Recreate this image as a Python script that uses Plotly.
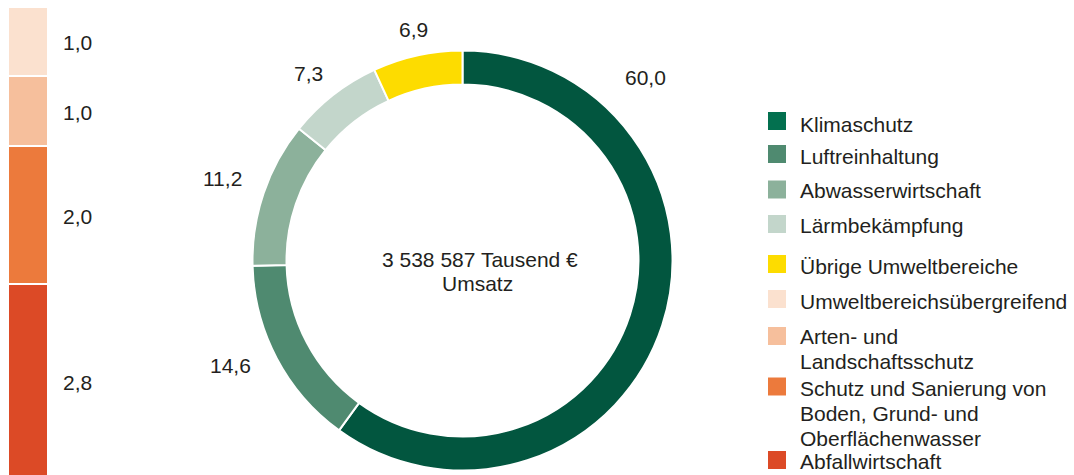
import math
import plotly.graph_objects as go

# ---- data ----
pie_labels = ["Klimaschutz", "Luftreinhaltung", "Abwasserwirtschaft", "Lärmbekämpfung", "Übrige Umweltbereiche"]
pie_values = [60.0, 14.6, 11.2, 7.3, 6.9]
pie_colors = ["#02563f", "#4f8a70", "#8cb19b", "#c3d6cb", "#fddc00"]
legend_pie_colors = ["#03704f", "#4f8a70", "#8cb19b", "#c3d6cb", "#fddc00"]

bar_labels = ["Abfallwirtschaft", "Schutz und Sanierung von<br>Boden, Grund- und<br>Oberflächenwasser",
              "Arten- und<br>Landschaftsschutz", "Umweltbereichsübergreifend"]
bar_values = [2.8, 2.0, 1.0, 1.0]
bar_colors = ["#dc4a26", "#ec7a3c", "#f6bf9c", "#fbe1cf"]

center_lines = ["3 538 587 Tausend €", "Umsatz"]

# ---- layout / style ----
W, H = 1074, 475
FONT = "Liberation Sans, Arial, sans-serif"
TXT = "#231f20"
FS = 21
# polar placement (degrees clockwise from top, radius px) of the value labels
label_polar = [(44.8, 260), (245.8, 254), (289.1, 253.5), (320.6, 243), (348, 237)]


def fmt(v):
    return f"{v:.1f}".replace(".", ",")


def px(x):
    return x / W


def py(y):
    return 1 - y / H


def text_at(x, y, s, xanchor="center"):
    # y is the visual centre of the capital letters
    fig.add_annotation(x=px(x), y=py(y + 1), xref="paper", yref="paper", text=s,
                       showarrow=False, xanchor=xanchor, yanchor="middle",
                       font=dict(size=FS, color=TXT, family=FONT))


fig = go.Figure()

# donut
cx, cy, R = 462.5, 260.5, 210
fig.add_trace(go.Pie(
    labels=pie_labels, values=pie_values, sort=False, direction="clockwise", rotation=0,
    hole=0.838, marker=dict(colors=pie_colors, line=dict(color="white", width=2)),
    textinfo="none", hoverinfo="label+value", showlegend=False,
    domain=dict(x=[px(cx - R), px(cx + R)], y=[py(cy + R), py(cy - R)]),
))

for v, (ang, r) in zip(pie_values, label_polar):
    a = math.radians(ang)
    text_at(cx + r * math.sin(a), cy - r * math.cos(a), fmt(v))

text_at(480, 258, center_lines[0])
text_at(477, 282, center_lines[1])

# stacked bar
for lab, v, c in zip(bar_labels, bar_values, bar_colors):
    fig.add_trace(go.Bar(x=[0], y=[v], marker=dict(color=c, line=dict(color="white", width=2)),
                         width=1, showlegend=False, hoverinfo="y", name=lab.replace("<br>", " ")))
cum = 0
for v in bar_values:
    fig.add_annotation(x=px(77), y=cum + v / 2, xref="paper", yref="y", text=fmt(v),
                       showarrow=False, xanchor="center", yanchor="middle", yshift=-1,
                       font=dict(size=FS, color=TXT, family=FONT))
    cum += v

# custom legend
leg_items = list(zip(pie_labels, legend_pie_colors)) + list(zip(reversed(bar_labels), reversed(bar_colors)))
square_y = [121, 154, 189.5, 224, 264, 299, 336, 386.5, 460]
line_y = [[124], [155], [189.5], [224.5], [265.5], [300], [335.5, 360],
          [387.5, 412.5, 437], [460.5]]
for (lab, c), sy, lys in zip(leg_items, square_y, line_y):
    fig.add_shape(type="rect", xref="paper", yref="paper", x0=px(768), x1=px(786),
                  y0=py(sy - 9), y1=py(sy + 9), fillcolor=c, line=dict(width=0))
    for s, ly in zip(lab.split("<br>"), lys):
        text_at(798, ly, s, xanchor="left")

fig.update_layout(
    width=W, height=H, margin=dict(l=0, r=0, t=0, b=0),
    paper_bgcolor="white", plot_bgcolor="white", barmode="stack", bargap=0,
    xaxis=dict(domain=[px(8), px(48)], range=[-0.5, 0.5], visible=False, fixedrange=True),
    yaxis=dict(domain=[0, py(7)], range=[0.05, 6.8], visible=False, fixedrange=True),
    font=dict(family=FONT),
)

fig.write_html("out.html", config={"displayModeBar": False},
               post_script="document.body.style.margin='0';")
